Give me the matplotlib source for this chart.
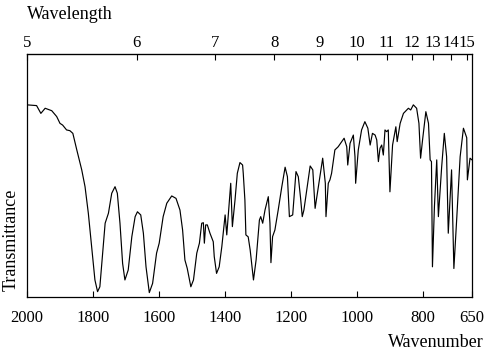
import matplotlib
matplotlib.use("Agg")
import matplotlib.pyplot as plt
import numpy as np

plt.rcParams['font.family'] = ['Liberation Serif', 'DejaVu Serif']

# spectrum: wavenumber (cm-1) and transmittance (arbitrary %)
wavenumber = [2000, 1971, 1958, 1945, 1925, 1910, 1900, 1892, 1880, 1870,
              1861, 1849, 1834, 1824, 1814, 1804, 1794, 1786, 1779, 1769,
              1763, 1753, 1743, 1733, 1726, 1718, 1710, 1703, 1693, 1682,
              1672, 1665, 1655, 1647, 1639, 1629, 1619, 1607, 1599, 1587,
              1576, 1561, 1548, 1536, 1528, 1521, 1514, 1503, 1495, 1485,
              1477, 1470, 1465, 1462, 1458, 1453, 1445, 1435, 1432, 1425,
              1417, 1409, 1399, 1394, 1386, 1382, 1377, 1369, 1362, 1354,
              1346, 1344, 1339, 1336, 1329, 1323, 1313, 1305, 1295, 1291,
              1285, 1278, 1268, 1263, 1260, 1255, 1248, 1238, 1227, 1217,
              1210, 1204, 1194, 1184, 1177, 1170, 1165, 1160, 1141, 1133,
              1126, 1103, 1095, 1093, 1086, 1081, 1076, 1066, 1056, 1038,
              1030, 1027, 1020, 1010, 1005, 1003, 995, 985, 975, 966,
              959, 952, 944, 939, 934, 929, 924, 919, 914, 909,
              904, 899, 891, 881, 877, 868, 858, 843, 836, 828,
              818, 811, 806, 800, 790, 782, 777, 773, 770, 764,
              757, 752, 742, 734, 727, 722, 712, 705, 696, 686,
              676, 666, 664, 656, 650]
transmittance = [79.1, 78.8, 75.6, 77.7, 76.7, 74.3, 71.5, 70.8, 68.8, 68.5,
                 67.4, 60.6, 52.4, 45.5, 34.6, 20.9, 7.2, 2.4, 4.4, 20.9,
                 30.5, 34.6, 42.8, 45.5, 42.8, 30.5, 14.0, 7.2, 11.3, 25.0,
                 33.2, 35.2, 33.9, 26.4, 12.6, 2.0, 5.8, 18.2, 22.3, 33.2,
                 38.7, 41.7, 40.7, 35.9, 27.7, 15.4, 12.0, 4.4, 7.2, 18.2,
                 22.3, 30.5, 30.7, 22.3, 29.8, 29.8, 26.4, 22.9, 16.8, 9.9,
                 12.6, 20.9, 33.9, 25.7, 40.0, 46.9, 29.1, 40.0, 51.0, 55.4,
                 54.4, 51.0, 40.0, 25.7, 24.9, 19.5, 7.2, 15.4, 31.8, 33.2,
                 30.5, 35.9, 41.4, 30.5, 14.3, 25.0, 27.7, 35.9, 45.5, 53.5,
                 49.6, 33.2, 33.9, 51.7, 49.6, 40.7, 33.2, 35.9, 54.0, 52.4,
                 36.6, 57.2, 46.9, 33.2, 46.9, 48.3, 51.0, 60.6, 61.9, 65.4,
                 61.9, 54.4, 63.3, 66.7, 57.8, 46.9, 60.6, 68.8, 72.2, 69.5,
                 62.6, 67.4, 66.7, 64.7, 55.8, 61.3, 62.6, 58.5, 68.8, 68.1,
                 68.8, 43.4, 62.6, 70.1, 64.0, 71.5, 75.6, 77.7, 77.0, 79.1,
                 77.7, 71.5, 57.2, 64.7, 76.3, 71.5, 56.5, 55.8, 12.6, 37.3,
                 56.5, 33.2, 53.7, 67.4, 57.8, 26.4, 52.4, 11.9, 33.2, 57.8,
                 69.5, 65.6, 48.3, 57.2, 56.5]

bottom_ticks = [2000, 1800, 1600, 1400, 1200, 1000, 800, 650]
wavelength_ticks = [5, 6, 7, 8, 9, 10, 11, 12, 13, 14, 15]

fig = plt.figure(figsize=(4.86, 3.55), dpi=100)
ax = fig.add_axes([0.0556, 0.162, 0.9156, 0.686])
ax.plot(wavenumber, transmittance, color='black', lw=0.85)
ax.set_xlim(2000, 650)
ax.set_ylim(0, 100)

ax.set_xticks(bottom_ticks)
ax.set_xticklabels([str(t) for t in bottom_ticks])
ax.set_yticks([])
ax.tick_params(axis='x', direction='in', length=4, width=0.8, labelsize=12, pad=9)
for s in ax.spines.values():
    s.set_linewidth(0.9)

top = ax.secondary_xaxis('top', functions=(lambda x: 10000.0 / x, lambda l: 10000.0 / l))
top.set_xticks(wavelength_ticks)
top.set_xticklabels([str(t) for t in wavelength_ticks])
top.tick_params(direction='in', length=4, width=0.8, labelsize=12, pad=2)

fig.text(0.055, 0.96, 'Wavelength', fontsize=13, ha='left', va='center')
fig.text(0.995, 0.035, 'Wavenumber', fontsize=13, ha='right', va='center')
fig.text(0.022, 0.325, 'Transmittance', fontsize=13, rotation=90, ha='center', va='center')

fig.savefig('out.png', dpi=100)
